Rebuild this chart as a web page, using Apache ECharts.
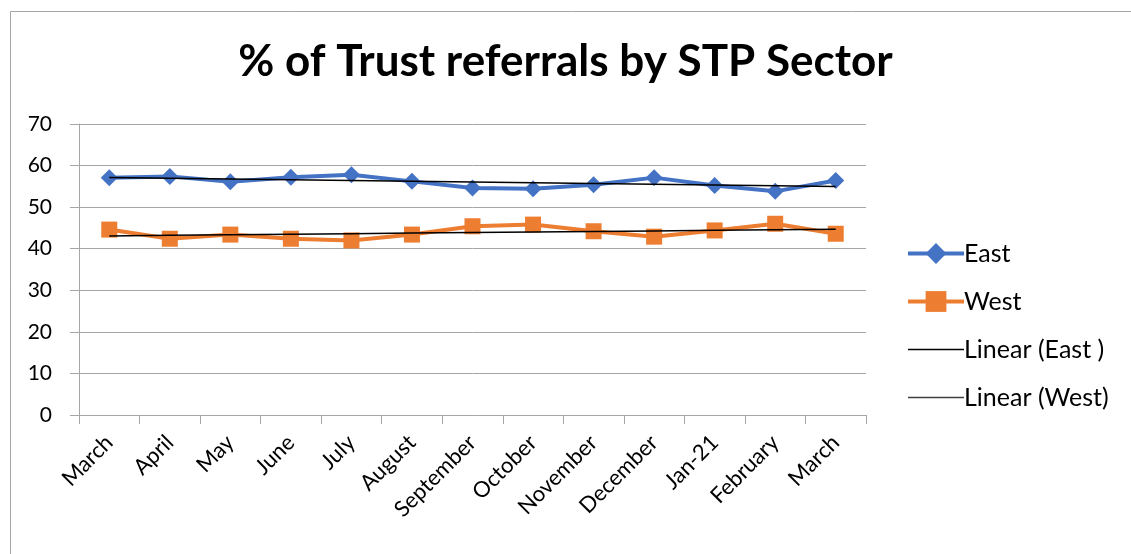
<!DOCTYPE html>
<html>
<head>
<meta charset="utf-8">
<script src="https://cdn.jsdelivr.net/npm/echarts@6/dist/echarts.min.js"></script>
<style>
  html, body { margin: 0; padding: 0; background: #fff; }
  #chart { width: 1131px; height: 554px; }
</style>
</head>
<body>
<div id="chart"></div>
<script>
const months = ['March', 'April', 'May', 'June', 'July', 'August', 'September',
  'October', 'November', 'December', 'Jan-21', 'February', 'March']
const east = [57.1, 57.4, 56.1, 57.2, 57.8, 56.2, 54.6, 54.4, 55.4, 57.1, 55.2, 53.8, 56.4]
const west = [44.6, 42.4, 43.4, 42.4, 42.0, 43.4, 45.4, 45.8, 44.2, 42.9, 44.4, 46.0, 43.6]
const yTicks = [0, 10, 20, 30, 40, 50, 60, 70]

// least squares trend, like excel's "Linear" trendline
function trend(vals) {
  const n = vals.length
  let sx = 0, sy = 0, sxy = 0, sxx = 0
  vals.forEach((v, i) => { sx += i; sy += v; sxy += i * v; sxx += i * i })
  const b = (n * sxy - sx * sy) / (n * sxx - sx * sx)
  const a = (sy - b * sx) / n
  return vals.map((v, i) => +(a + b * i).toFixed(3))
}

const font = 'Lato, "Open Sans", sans-serif'
const chart = echarts.init(document.getElementById('chart'))
chart.setOption({
  animation: false,
  textStyle: { fontFamily: font },
  title: {
    text: '% of Trust referrals by STP Sector',
    left: 'center',
    top: 35,
    textStyle: { fontSize: 44, fontWeight: 'bold', color: '#000', fontFamily: font }
  },
  graphic: [{
    type: 'rect',
    shape: { x: 10.5, y: 11.5, width: 1200, height: 600 },
    style: { fill: 'none', stroke: '#a6a6a6', lineWidth: 1 },
    silent: true
  }],
  legend: {
    orient: 'vertical',
    left: 901,
    top: 236,
    itemGap: 23,
    itemWidth: 56,
    itemHeight: 26,
    textStyle: { fontSize: 25, color: '#000', fontFamily: font, padding: [0, 0, 0, -5] },
    data: [
      { name: 'East', lineStyle: { width: 4 } },
      { name: 'West', lineStyle: { width: 4 } },
      { name: 'Linear (East )', itemStyle: { opacity: 0 }, lineStyle: { width: 1.5 } },
      { name: 'Linear (West)', itemStyle: { opacity: 0 }, lineStyle: { width: 1.5, color: '#404040' } }
    ]
  },
  grid: { left: 79, right: 265, top: 124, bottom: 139 },
  xAxis: {
    type: 'category',
    data: months,
    boundaryGap: true,
    axisLine: { lineStyle: { color: '#a6a6a6', width: 1 } },
    axisTick: { show: true, length: 9, lineStyle: { color: '#a6a6a6' } },
    axisLabel: { rotate: 45, fontSize: 22, color: '#000', margin: 24, interval: 0 }
  },
  yAxis: {
    type: 'value',
    min: yTicks[0],
    max: yTicks[yTicks.length - 1],
    interval: 10,
    axisLine: { show: true, lineStyle: { color: '#a6a6a6', width: 1 } },
    axisTick: { show: true, length: 9, lineStyle: { color: '#a6a6a6' } },
    splitLine: { lineStyle: { color: '#a6a6a6', width: 1 } },
    axisLabel: { fontSize: 21, color: '#000', margin: 27 }
  },
  series: [
    {
      name: 'East',
      type: 'line',
      data: east,
      symbol: 'diamond',
      symbolSize: 17,
      lineStyle: { color: '#4472C4', width: 4 },
      itemStyle: { color: '#4472C4' },
      z: 2
    },
    {
      name: 'West',
      type: 'line',
      data: west,
      symbol: 'rect',
      symbolSize: 16,
      lineStyle: { color: '#ED7D31', width: 4 },
      itemStyle: { color: '#ED7D31' },
      z: 2
    },
    {
      name: 'Linear (East )',
      type: 'line',
      data: trend(east),
      symbol: 'none',
      lineStyle: { color: '#000', width: 1.5 },
      itemStyle: { color: '#000' },
      z: 3
    },
    {
      name: 'Linear (West)',
      type: 'line',
      data: trend(west),
      symbol: 'none',
      lineStyle: { color: '#000', width: 1.5 },
      itemStyle: { color: '#000' },
      z: 3
    }
  ]
})
</script>
</body>
</html>
